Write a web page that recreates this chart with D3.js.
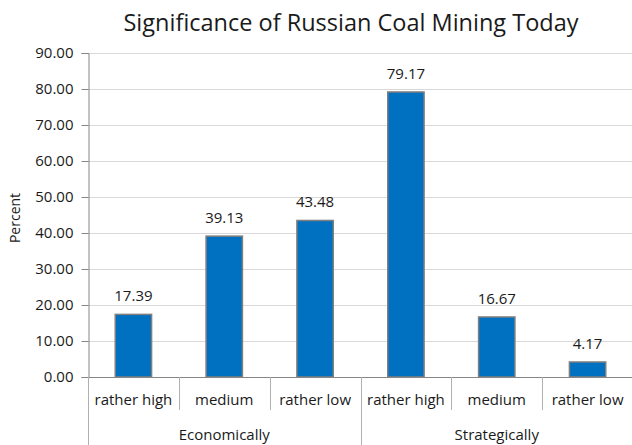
<!DOCTYPE html>
<html>
<head>
<meta charset="utf-8">
<script src="https://cdn.jsdelivr.net/npm/d3@7"></script>
<style>
  html, body { margin: 0; padding: 0; background: #fff; }
  svg { display: block; font-family: "Open Sans", "Noto Sans", sans-serif; }
</style>
</head>
<body>
<svg id="chart" width="632" height="445"></svg>
<script>
// Survey results: perceived significance of Russian coal mining
const groups = ["Economically", "Strategically"];
const levels = ["rather high", "medium", "rather low"];
const economically = [17.39, 39.13, 43.48];
const strategically = [79.17, 16.67, 4.17];
const yTicks = [0, 10, 20, 30, 40, 50, 60, 70, 80, 90];

const rows = [];
[economically, strategically].forEach((vals, gi) => {
  vals.forEach((v, li) => rows.push({ group: groups[gi], level: levels[li], value: v, key: gi + "-" + li }));
});

const svg = d3.select("#chart");
const margin = { left: 88, right: 0, top: 53, bottom: 68 };
const W = 632, H = 445;
const plotBottom = H - margin.bottom;
const textColor = "#1a1a1a";

const x = d3.scaleBand()
  .domain(rows.map(d => d.key))
  .range([margin.left, 633])
  .paddingInner(0).paddingOuter(0);

const y = d3.scaleLinear().domain([0, 90]).range([plotBottom, margin.top]);

// Title
svg.append("text")
  .attr("x", 351).attr("y", 31)
  .attr("text-anchor", "middle")
  .attr("font-size", 23.5)
  .attr("fill", textColor)
  .text("Significance of Russian Coal Mining Today");

// Gridlines
svg.append("g")
  .selectAll("line").data(yTicks.filter(t => t > 0)).join("line")
  .attr("x1", margin.left).attr("x2", W)
  .attr("y1", d => Math.round(y(d)) + 0.5).attr("y2", d => Math.round(y(d)) + 0.5)
  .attr("stroke", "#d9d9d9").attr("stroke-width", 1);

// Y axis
const yAxis = svg.append("g")
  .attr("transform", `translate(${margin.left + 0.5},0)`)
  .call(d3.axisLeft(y).tickValues(yTicks).tickFormat(d3.format(".2f")).tickSizeOuter(0).tickSize(7).tickPadding(8));
yAxis.select(".domain").attr("stroke", "#868686");
yAxis.selectAll(".tick line").attr("stroke", "#868686");
yAxis.selectAll(".tick text").attr("font-size", 15).attr("fill", textColor).attr("font-family", "'Open Sans', sans-serif");

// Y label
svg.append("text")
  .attr("transform", `translate(20,218) rotate(-90)`)
  .attr("text-anchor", "middle")
  .attr("font-size", 14)
  .attr("fill", textColor)
  .text("Percent");

// Bars
const bw = x.bandwidth() * 0.4;
svg.append("g")
  .selectAll("rect").data(rows).join("rect")
  .attr("x", d => x(d.key) + (x.bandwidth() - bw) / 2)
  .attr("y", d => y(d.value))
  .attr("width", bw)
  .attr("height", d => y(0) - y(d.value))
  .attr("fill", "#0070C0")
  .attr("stroke", "#7f7f7f")
  .attr("stroke-width", 1.5);

// Value labels
svg.append("g")
  .selectAll("text").data(rows).join("text")
  .attr("x", d => x(d.key) + x.bandwidth() / 2)
  .attr("y", d => y(d.value) - 13)
  .attr("text-anchor", "middle")
  .attr("font-size", 15)
  .attr("fill", textColor)
  .text(d => d.value.toFixed(2));

// Category axis baseline
svg.append("line")
  .attr("x1", margin.left).attr("x2", W)
  .attr("y1", plotBottom + 0.5).attr("y2", plotBottom + 0.5)
  .attr("stroke", "#868686");

// Dividers between categories
const boundaries = d3.range(rows.length + 1).map(i => margin.left + i * x.bandwidth());
svg.append("g")
  .selectAll("line").data(boundaries).join("line")
  .attr("x1", d => Math.round(d) + 0.5).attr("x2", d => Math.round(d) + 0.5)
  .attr("y1", plotBottom)
  .attr("y2", (d, i) => (i % levels.length === 0) ? H : plotBottom + 33)
  .attr("stroke", "#b0b0b0");

// Level labels
svg.append("g")
  .selectAll("text").data(rows).join("text")
  .attr("x", d => x(d.key) + x.bandwidth() / 2)
  .attr("y", plotBottom + 28)
  .attr("text-anchor", "middle")
  .attr("font-size", 15)
  .attr("fill", textColor)
  .text(d => d.level);

// Group labels
svg.append("g")
  .selectAll("text").data(groups).join("text")
  .attr("x", (g, gi) => margin.left + (gi * levels.length + levels.length / 2) * x.bandwidth())
  .attr("y", plotBottom + 63)
  .attr("text-anchor", "middle")
  .attr("font-size", 15)
  .attr("fill", textColor)
  .text(g => g);
</script>
</body>
</html>
